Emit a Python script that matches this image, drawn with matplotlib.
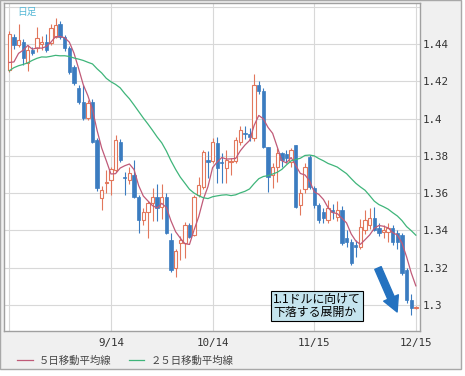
import matplotlib
matplotlib.use("Agg")
import matplotlib.pyplot as plt
from matplotlib.patches import Rectangle
import numpy as np
import pandas as pd

plt.rcParams['font.family'] = ['Noto Sans CJK JP', 'DejaVu Sans']

# daily candles, 8/15 .. 12/15 (89 trading days)
opens = [1.4262, 1.4437, 1.4395, 1.4410, 1.4300, 1.4368, 1.4378, 1.4398, 1.4412, 1.4405,
         1.4440, 1.4510, 1.4437, 1.4378, 1.4277, 1.4165, 1.4090, 1.4003, 1.4090, 1.3885,
         1.3575, 1.3655, 1.3670, 1.3725, 1.3875, 1.3688, 1.3670, 1.3700, 1.3580, 1.3457,
         1.3500, 1.3548, 1.3580, 1.3527, 1.3580, 1.3350, 1.3200, 1.3334, 1.3334, 1.3430,
         1.3376, 1.3590, 1.3633, 1.3778, 1.3770, 1.3870, 1.3768, 1.3735, 1.3765, 1.3770,
         1.3875, 1.3925, 1.3920, 1.3895, 1.4180, 1.4150, 1.3848, 1.3700, 1.3740, 1.3815,
         1.3810, 1.3768, 1.3858, 1.3537, 1.3620, 1.3795, 1.3628, 1.3537, 1.3500, 1.3457,
         1.3510, 1.3470, 1.3510, 1.3360, 1.3340, 1.3320, 1.3310, 1.3403, 1.3430, 1.3467,
         1.3414, 1.3390, 1.3390, 1.3414, 1.3387, 1.3377, 1.3189, 1.3028, 1.2985]
highs = [1.4468, 1.4455, 1.4510, 1.4425, 1.4395, 1.4385, 1.4490, 1.4445, 1.4455, 1.4508,
         1.4540, 1.4525, 1.4450, 1.4390, 1.4290, 1.4180, 1.4180, 1.4100, 1.4105, 1.3895,
         1.3640, 1.3725, 1.3740, 1.3910, 1.3890, 1.3715, 1.3740, 1.3780, 1.3590, 1.3520,
         1.3560, 1.3630, 1.3650, 1.3650, 1.3600, 1.3385, 1.3300, 1.3370, 1.3445, 1.3440,
         1.3590, 1.3685, 1.3830, 1.3825, 1.3895, 1.3900, 1.3815, 1.3830, 1.3790, 1.3900,
         1.3960, 1.3960, 1.3950, 1.4240, 1.4200, 1.4165, 1.3850, 1.3760, 1.3840, 1.3820,
         1.3830, 1.3840, 1.3860, 1.3620, 1.3760, 1.3805, 1.3640, 1.3550, 1.3520, 1.3565,
         1.3540, 1.3560, 1.3530, 1.3400, 1.3355, 1.3350, 1.3460, 1.3510, 1.3520, 1.3525,
         1.3440, 1.3430, 1.3440, 1.3430, 1.3400, 1.3385, 1.3200, 1.3060, 1.2995]
lows = [1.4248, 1.4375, 1.4385, 1.4290, 1.4255, 1.4340, 1.4355, 1.4370, 1.4355, 1.4395,
        1.4430, 1.4425, 1.4365, 1.4240, 1.4180, 1.4080, 1.3995, 1.3990, 1.3870, 1.3610,
        1.3510, 1.3600, 1.3590, 1.3715, 1.3765, 1.3590, 1.3650, 1.3575, 1.3387, 1.3430,
        1.3360, 1.3450, 1.3450, 1.3460, 1.3380, 1.3180, 1.3150, 1.3240, 1.3250, 1.3360,
        1.3370, 1.3580, 1.3620, 1.3680, 1.3760, 1.3655, 1.3655, 1.3655, 1.3700, 1.3760,
        1.3860, 1.3890, 1.3880, 1.3880, 1.4130, 1.3845, 1.3607, 1.3630, 1.3660, 1.3740,
        1.3760, 1.3740, 1.3520, 1.3483, 1.3600, 1.3620, 1.3520, 1.3440, 1.3440, 1.3440,
        1.3460, 1.3450, 1.3320, 1.3310, 1.3215, 1.3260, 1.3300, 1.3380, 1.3410, 1.3395,
        1.3370, 1.3360, 1.3340, 1.3320, 1.3300, 1.3160, 1.3010, 1.2945, 1.2980]
closes = [1.4455, 1.4395, 1.4420, 1.4325, 1.4368, 1.4352, 1.4432, 1.4412, 1.4368, 1.4485,
          1.4500, 1.4437, 1.4378, 1.4250, 1.4190, 1.4090, 1.4003, 1.4084, 1.3876, 1.3630,
          1.3617, 1.3662, 1.3730, 1.3885, 1.3780, 1.3680, 1.3708, 1.3580, 1.3457, 1.3500,
          1.3548, 1.3580, 1.3520, 1.3580, 1.3387, 1.3190, 1.3290, 1.3350, 1.3430, 1.3366,
          1.3580, 1.3645, 1.3820, 1.3765, 1.3875, 1.3735, 1.3762, 1.3778, 1.3772, 1.3885,
          1.3940, 1.3915, 1.3900, 1.4180, 1.4150, 1.3848, 1.3687, 1.3740, 1.3815, 1.3780,
          1.3790, 1.3832, 1.3527, 1.3600, 1.3740, 1.3633, 1.3537, 1.3457, 1.3465, 1.3520,
          1.3500, 1.3510, 1.3333, 1.3340, 1.3226, 1.3310, 1.3420, 1.3457, 1.3467, 1.3403,
          1.3387, 1.3400, 1.3412, 1.3339, 1.3340, 1.3173, 1.3028, 1.2985, 1.2990]

# closes before the first visible day (needed for the moving averages)
prior_closes = [1.3980, 1.4160, 1.4150, 1.4150, 1.4020, 1.4160, 1.4230, 1.4390, 1.4380, 1.4370,
                1.4500, 1.4370, 1.4350, 1.4390, 1.4240, 1.4180, 1.4330, 1.4100, 1.4280, 1.4180,
                1.4380, 1.4190, 1.4240, 1.4240]

date_ticks = [0, 22, 44, 66, 88]
date_labels = ['', '9/14', '10/14', '11/15', '12/15']
price_ticks = [1.30, 1.32, 1.34, 1.36, 1.38, 1.40, 1.42, 1.44, 1.46]
price_labels = ['1.3', '1.32', '1.34', '1.36', '1.38', '1.4', '1.42', '1.44', '']

UP = '#e2775c'
DOWN = '#3b7cc0'

o = np.array(opens); h = np.array(highs); l = np.array(lows); c = np.array(closes)
x = np.arange(len(c))
allc = pd.Series(prior_closes + closes)
ma5 = allc.rolling(5).mean().iloc[len(prior_closes):].values
ma25 = allc.rolling(25).mean().iloc[len(prior_closes):].values

fig = plt.figure(figsize=(4.65, 3.76), dpi=100)
fig.patches.append(Rectangle((0, 7/376), 461/465, 369/376, transform=fig.transFigure,
                             facecolor='#f0f0f0', edgecolor='#a8a8a8', lw=1, zorder=-10))
ax = fig.add_axes([4/465, 45/376, 416/465, 328/376])
ax.set_facecolor('white')

up = c >= o
ax.vlines(x[up], l[up], h[up], color=UP, lw=0.8, zorder=2)
ax.vlines(x[~up], l[~up], h[~up], color=DOWN, lw=0.8, zorder=2)
body = np.maximum(np.abs(c - o), 0.0004)
ax.bar(x[up], body[up], bottom=np.minimum(o, c)[up], width=0.72,
       facecolor='white', edgecolor=UP, lw=0.8, zorder=3)
ax.bar(x[~up], body[~up], bottom=np.minimum(o, c)[~up], width=0.72,
       facecolor=DOWN, edgecolor=DOWN, lw=0.5, zorder=3)

l5, = ax.plot(x, ma5, color='#c05a78', lw=0.9, zorder=4)
l25, = ax.plot(x, ma25, color='#3fb57a', lw=0.9, zorder=4)

ax.set_xlim(-1.15, 88.9)
ax.set_ylim(1.2861, 1.462)
ax.set_xticks(date_ticks)
ax.set_xticklabels(date_labels, fontfamily='DejaVu Sans Mono', fontsize=7.8, color='#333333')
ax.set_yticks(price_ticks)
ax.set_yticklabels(price_labels, fontfamily='DejaVu Sans Mono', fontsize=7.8, color='#333333')
ax.yaxis.tick_right()
ax.tick_params(axis='y', length=0, pad=2)
ax.tick_params(axis='x', length=0, pad=5)
ax.grid(True, color='#d8d8d8', lw=0.8, zorder=0)
ax.set_axisbelow(True)
for s in ax.spines.values():
    s.set_color('#a0a0a0')
    s.set_linewidth(1)

ax.text(0.031, 0.974, '日足', transform=ax.transAxes, fontsize=7, color='#56b8d6',
        ha='left', va='center')

ax.text(0.6466, 0.036, '1.1ドルに向けて\n下落する展開か', transform=ax.transAxes,
        fontsize=8.6, color='black', ha='left', va='bottom', linespacing=1.05,
        bbox=dict(boxstyle='square,pad=0.15', facecolor='#c4e4ee', edgecolor='black', lw=0.8),
        zorder=6)
ax.annotate('', xy=(0.945, 0.058), xytext=(0.899, 0.192),
            xycoords='axes fraction', textcoords='axes fraction',
            arrowprops=dict(arrowstyle='simple,head_width=1.15,head_length=1.1,tail_width=0.5',
                            color='#2472c0', mutation_scale=10, shrinkA=0, shrinkB=0),
            zorder=6)

fig.legend([l5, l25], ['５日移動平均線', '２５日移動平均線'], loc='center left',
           bbox_to_anchor=(8/465, 15/376), ncol=2, frameon=False, fontsize=7.5,
           handlelength=1.5, handletextpad=0.6, columnspacing=1.6, labelcolor='#444444')

fig.savefig('out.png', dpi=100)
